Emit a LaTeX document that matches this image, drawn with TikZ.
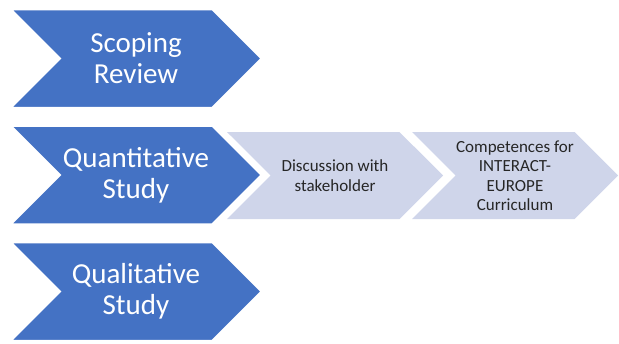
\documentclass[tikz,border=0pt]{standalone}
\usepackage{fontspec}
\setmainfont{Carlito}
\usetikzlibrary{shapes.symbols}

\begin{document}
\begin{tikzpicture}[x=1pt, y=-1pt]
    % Define colors
    \definecolor{stepblue}{RGB}{68,114,196}
    \definecolor{steplight}{RGB}{207,213,234}
    \definecolor{steptext}{RGB}{38,38,38}

    % Define dimensions
    \def\bluewidth{252}
    \def\blueheight{99}
    \def\lightheight{87}
    \def\rowgap{116.5}

    \tikzset{
        chevron/.style={shape=signal, signal from=west, signal to=east,
            signal pointer angle=90, outer sep=0pt, inner sep=0pt, align=center},
        bluestep/.style={chevron, fill=stepblue, draw=white, line width=2.5pt,
            text=white, minimum width=\bluewidth pt, minimum height=\blueheight pt,
            font=\fontsize{29}{31}\selectfont},
        lightstep/.style={chevron, fill=steplight, text=steptext,
            minimum height=\lightheight pt, font=\fontsize{17}{19.5}\selectfont}
    }

    \useasboundingbox (0,0) rectangle (619,343);

    % Light chevrons (drawn first, the blue one covers their notch)
    \node[lightstep, minimum width=216pt] (discussion) at (335,175.5) {Discussion with\\stakeholder};
    \node[lightstep, minimum width=206pt] (competences) at (515,175.5) {Competences for\\INTERACT-\\EUROPE\\Curriculum};

    % Blue chevrons using foreach loop
    \foreach \name/\i/\txt in {scoping/0/{Scoping\\Review}, quantitative/1/{Quantitative\\Study}, qualitative/2/{Qualitative\\Study}} {
        \node[bluestep] (\name) at (136, {58.5+\i*\rowgap}) {\txt};
    }

\end{tikzpicture}
\end{document}
